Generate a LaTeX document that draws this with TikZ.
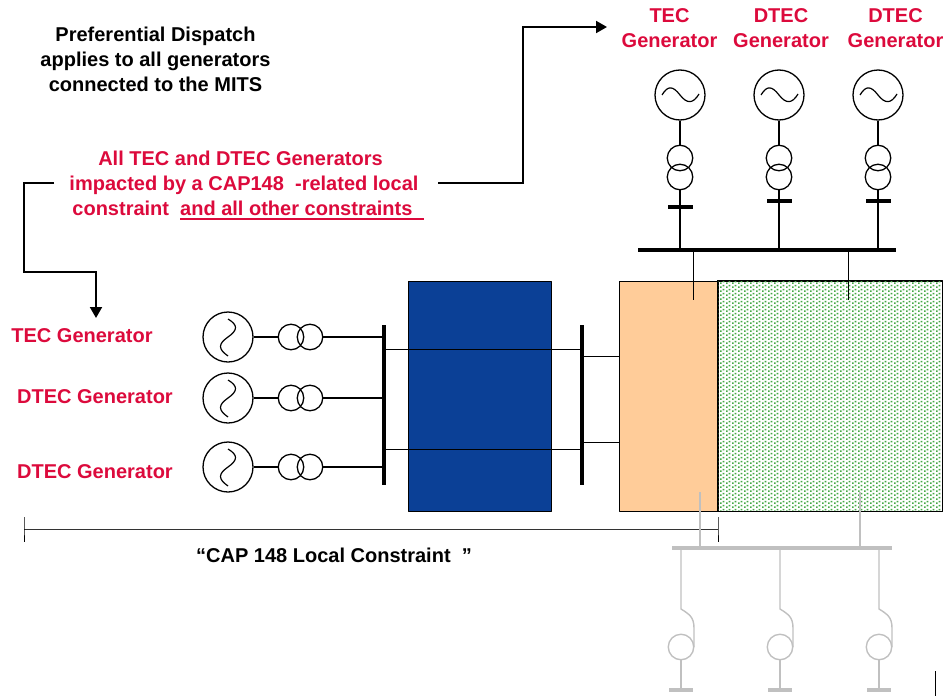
\documentclass[tikz,border=0pt]{standalone}
\usepackage{fontspec}
\setmainfont{Liberation Sans}
\usetikzlibrary{patterns,arrows.meta}
\newcommand{\thickunder}[1]{\setbox0=\hbox{#1}\rlap{\rule[-4.5pt]{\wd0}{2.2pt}}\box0}
\definecolor{capred}{HTML}{DC0A3C}
\definecolor{capblue}{HTML}{0B4096}
\definecolor{cappeach}{HTML}{FFCC99}
\definecolor{capgreen}{HTML}{45A845}
\definecolor{capgrey}{HTML}{C0C0C0}
\pgfdeclarepatternformonly{capdots}{\pgfqpoint{0pt}{0pt}}{\pgfqpoint{6pt}{4pt}}{\pgfqpoint{6pt}{4pt}}{
	\pgfpathrectangle{\pgfqpoint{0pt}{0pt}}{\pgfqpoint{2pt}{2pt}}
	\pgfpathrectangle{\pgfqpoint{3pt}{2pt}}{\pgfqpoint{2pt}{2pt}}
	\pgfusepath{fill}
}
\tikzset{
	label text/.style={font=\fontsize{20}{25}\selectfont\bfseries, align=center, inner sep=0pt},
	red text/.style={label text, text=capred},
	machine/.style={circle, draw, line width=1.3pt, minimum size=50pt, inner sep=0pt},
	machine h/.style={machine, path picture={
		\draw[line width=1.2pt, shift={(path picture bounding box.center)}] (-18,0) .. controls (-12,-10) and (-7,-9) .. (0,0) .. controls (7,9) and (13,9) .. (19,-1);}},
	machine v/.style={machine, path picture={
		\draw[line width=1.2pt, shift={(path picture bounding box.center)}] (0,-18) .. controls (10,-12) and (10,-7) .. (0,0) .. controls (-10,7) and (-10,12) .. (0,19);}},
	winding/.style={circle, draw, line width=1.3pt, minimum size=25.5pt, inner sep=0pt},
	busbar/.style={rectangle, fill, inner sep=0pt},
	block/.style={rectangle, draw, line width=1pt, inner sep=0pt, minimum height=230pt},
	lead/.style={line width=1.7pt},
	tie/.style={line width=1pt},
	call out/.style={line width=2pt, line join=miter},
	ghost/.style={capgrey, line width=1.4pt},
	ghost ring/.style={circle, draw=capgrey, line width=1.4pt, minimum size=25.5pt, inner sep=0pt},
	big tip/.style={-{Triangle[length=11pt,width=12pt]}}
}
\begin{document}
\begin{tikzpicture}[x=1pt, y=-1pt, line cap=butt, line join=round]
	\useasboundingbox (0,0) rectangle (950,696);

	% Các khối màu
	\node[block, fill=capblue, minimum width=143pt] (blueblock) at (479.5,396) {};
	\node[block, fill=cappeach, minimum width=99pt] (peachblock) at (668.5,396) {};
	\node[block, fill=white, minimum width=224pt] (greenblock) at (830,396) {};
	\fill[pattern=capdots, pattern color=capgreen] (greenblock.south west) rectangle (greenblock.north east);
	\draw[line width=1pt] (greenblock.south west) rectangle (greenblock.north east);

	% Các dòng chữ
	\node[label text] (dispatch) at (155.5,59) {Preferential Dispatch\\applies to all generators\\connected to the MITS};
	\node[red text] (impacted) at (244,186) {All TEC and DTEC Generators\hspace*{7pt}\\impacted by a CAP148\ \ -related local\\\hspace*{8pt}constraint\ \ \thickunder{and all other constraints\ \ }};
	\node[label text] (caplabel) at (334,555) {“CAP 148 Local Constraint\ \ ”};

	% Máy phát phía trên
	\node[red text] (toptec) at (669.5,28.5) {TEC\\Generator};
	\node[red text] (topdteca) at (781,28.5) {DTEC\\Generator};
	\node[red text] (topdtecb) at (895.5,28.5) {DTEC\\Generator};
	\node[machine h] (GA) at (680,95) {};
	\node[machine h] (GB) at (779,95) {};
	\node[machine h] (GC) at (878,95) {};
	\node[winding] (TA1) at (680,158) {};
	\node[winding] (TA2) at (680,177) {};
	\node[winding] (TB1) at (779,158) {};
	\node[winding] (TB2) at (779,177) {};
	\node[winding] (TC1) at (878,158) {};
	\node[winding] (TC2) at (878,177) {};
	\node[busbar, minimum width=25pt, minimum height=3.5pt] (barA) at (680,207) {};
	\node[busbar, minimum width=25pt, minimum height=3.5pt] (barB) at (779,201) {};
	\node[busbar, minimum width=25pt, minimum height=3.5pt] (barC) at (878,201) {};
	\node[busbar, minimum width=258pt, minimum height=4pt] (topbus) at (767,250) {};
	\draw[lead] (GA) -- (TA1);
	\draw[lead] (GB) -- (TB1);
	\draw[lead] (GC) -- (TC1);
	\draw[lead] (TA2) -- (TA2 |- topbus);
	\draw[lead] (TB2) -- (TB2 |- topbus);
	\draw[lead] (TC2) -- (TC2 |- topbus);

	% Nối thanh cái trên xuống các khối
	\coordinate (peachend) at (693,300);
	\coordinate (greenend) at (848,300);
	\draw[tie] (peachend |- topbus) -- (peachend);
	\draw[tie] (greenend |- topbus) -- (greenend);

	% Máy phát bên trái
	\node[red text] (lefttec) at (82,336) {TEC Generator};
	\node[red text] (leftdteca) at (95,397) {DTEC Generator};
	\node[red text] (leftdtecb) at (95,472) {DTEC Generator};
	\node[machine v] (GD) at (228,337) {};
	\node[machine v] (GE) at (228,398) {};
	\node[machine v] (GF) at (228,467) {};
	\node[winding] (TD1) at (291,337) {};
	\node[winding] (TD2) at (310,337) {};
	\node[winding] (TE1) at (291,398) {};
	\node[winding] (TE2) at (310,398) {};
	\node[winding] (TF1) at (291,467) {};
	\node[winding] (TF2) at (310,467) {};
	\node[busbar, minimum width=4pt, minimum height=160pt] (leftbus) at (383.5,405) {};
	\node[busbar, minimum width=4pt, minimum height=160pt] (rightbus) at (581.5,405) {};
	\draw[lead] (GD) -- (TD1);
	\draw[lead] (GE) -- (TE1);
	\draw[lead] (GF) -- (TF1);
	\draw[lead] (TD2) -- (TD2 -| leftbus);
	\draw[lead] (TE2) -- (TE2 -| leftbus);
	\draw[lead] (TF2) -- (TF2 -| leftbus);

	% Các đường nối qua khối xanh
	\coordinate (tieup) at (383,349);
	\coordinate (tiedown) at (383,449);
	\coordinate (linkup) at (581,356);
	\coordinate (linkdown) at (581,442);
	\draw[tie] (tieup) -- (tieup -| rightbus);
	\draw[tie] (tiedown) -- (tiedown -| rightbus);
	\draw[tie] (linkup) -- (linkup -| peachblock.west);
	\draw[tie] (linkdown) -- (linkdown -| peachblock.west);

	% Hai mũi tên từ dòng chữ đỏ
	\coordinate (outleft) at (54,182.5);
	\coordinate (outright) at (438,182.5);
	\coordinate (intec) at (96,318);
	\coordinate (intop) at (607,27);
	\draw[call out, big tip] (outleft) -- (24,182.5) -- (24,272) -- (96,272) -- (intec);
	\draw[call out, big tip] (outright) -- (523,182.5) -- (523,27) -- (intop);

	% Đường kích thước
	\coordinate (spanleft) at (24,529);
	\coordinate (spanright) at (718,529);
	\draw[line width=1pt, black!80] (spanleft) -- (spanright);
	\draw[line width=1pt] (24,517) -- (spanleft) -- (24,542);
	\draw[line width=1pt] (718,517) -- (spanright) -- (718,542);

	% Phần màu xám phía dưới
	\node[busbar, fill=capgrey, minimum width=220pt, minimum height=3.5pt] (lowbus) at (782,548) {};
	\coordinate (peachstart) at (700,492);
	\coordinate (greenstart) at (860,492);
	\draw[ghost, line width=1.1pt] (peachstart) -- (peachstart |- lowbus);
	\draw[ghost, line width=1.1pt] (greenstart) -- (greenstart |- lowbus);
	\node[ghost ring] (LA) at (681,647) {};
	\node[ghost ring] (LB) at (780,647) {};
	\node[ghost ring] (LC) at (879,647) {};
	\node[busbar, fill=capgrey, minimum width=24pt, minimum height=3.5pt] (baseA) at (681,690) {};
	\node[busbar, fill=capgrey, minimum width=24pt, minimum height=3.5pt] (baseB) at (780,690) {};
	\node[busbar, fill=capgrey, minimum width=24pt, minimum height=3.5pt] (baseC) at (879,690) {};
	\draw[ghost] (LA |- lowbus) -- (681,609) .. controls (689,614) and (694,617) .. (694,628) -- (694,647);
	\draw[ghost] (LB |- lowbus) -- (780,609) .. controls (788,614) and (793,617) .. (793,628) -- (793,647);
	\draw[ghost] (LC |- lowbus) -- (879,609) .. controls (887,614) and (892,617) .. (892,628) -- (892,647);
	\draw[ghost] (LA) -- (baseA);
	\draw[ghost] (LB) -- (baseB);
	\draw[ghost] (LC) -- (baseC);

	% Vạch nhỏ ở góc dưới
	\coordinate (cornertop) at (935,671);
	\coordinate (cornerend) at (935,696);
	\draw[line width=1pt] (cornertop) -- (cornerend);
\end{tikzpicture}
\end{document}
